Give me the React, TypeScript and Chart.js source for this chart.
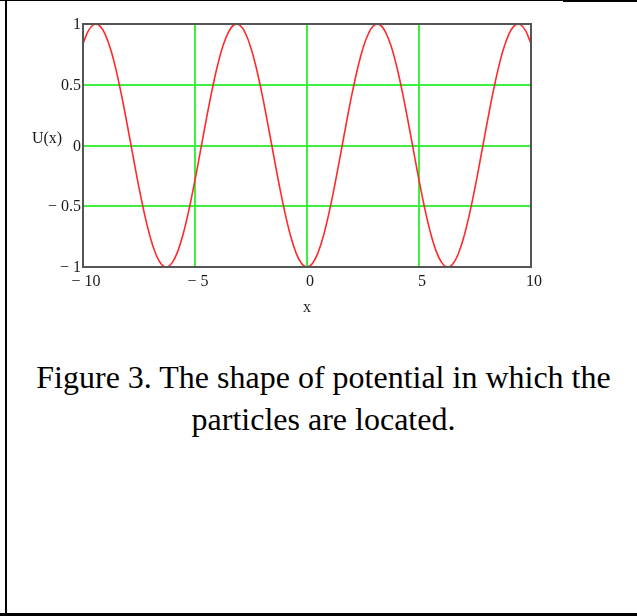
import { useEffect, useRef } from "react";
import { Chart, registerables } from "chart.js";

Chart.register(...registerables);

const xValues = [
  -10, -9.75, -9.5, -9.25, -9, -8.75, -8.5, -8.25, -8, -7.75, -7.5, -7.25, -7, -6.75, -6.5, -6.25,
  -6, -5.75, -5.5, -5.25, -5, -4.75, -4.5, -4.25, -4, -3.75, -3.5, -3.25, -3, -2.75, -2.5, -2.25,
  -2, -1.75, -1.5, -1.25, -1, -0.75, -0.5, -0.25, 0, 0.25, 0.5, 0.75, 1, 1.25, 1.5, 1.75,
  2, 2.25, 2.5, 2.75, 3, 3.25, 3.5, 3.75, 4, 4.25, 4.5, 4.75, 5, 5.25, 5.5, 5.75,
  6, 6.25, 6.5, 6.75, 7, 7.25, 7.5, 7.75, 8, 8.25, 8.5, 8.75, 9, 9.25, 9.5, 9.75, 10,
];

const uValues = [
  0.839, 0.947, 0.997, 0.985, 0.911, 0.782, 0.602, 0.387, 0.146, -0.103, -0.347, -0.568, -0.754, -0.893, -0.977, -1.0,
  -0.96, -0.861, -0.709, -0.512, -0.284, -0.038, 0.211, 0.446, 0.654, 0.821, 0.936, 0.994, 0.99, 0.924, 0.801, 0.628,
  0.416, 0.178, -0.071, -0.315, -0.54, -0.732, -0.878, -0.969, -1.0, -0.969, -0.878, -0.732, -0.54, -0.315, -0.071, 0.178,
  0.416, 0.628, 0.801, 0.924, 0.99, 0.994, 0.936, 0.821, 0.654, 0.446, 0.211, -0.038, -0.284, -0.512, -0.709, -0.861,
  -0.96, -1.0, -0.977, -0.893, -0.754, -0.568, -0.347, -0.103, 0.146, 0.387, 0.602, 0.782, 0.911, 0.985, 0.997, 0.947, 0.839,
];

const xTicks = [-10, -5, 0, 5, 10];
const yTicks = [-1, -0.5, 0, 0.5, 1];
const xTitle = "x";
const yTitle = "U(x)";
const captionLines = ["Figure 3. The shape of potential in which the", "particles are located."];

const SERIF = "'Liberation Serif', 'Times New Roman', serif";

function fmt(v: number): string {
  return v < 0 ? "\u2212 " + String(Math.abs(v)) : String(v);
}

const boxAndTitlePlugin = {
  id: "boxAndTitle",
  afterDraw(chart: any) {
    const { ctx, chartArea } = chart;
    ctx.save();
    ctx.strokeStyle = "#555555";
    ctx.lineWidth = 2;
    ctx.strokeRect(chartArea.left, chartArea.top, chartArea.right - chartArea.left, chartArea.bottom - chartArea.top);
    ctx.fillStyle = "#1a1a1a";
    ctx.font = "16px " + SERIF;
    ctx.textAlign = "center";
    ctx.textBaseline = "middle";
    const yScale = chart.scales.y;
    ctx.fillText(yTitle, 47, yScale.getPixelForValue(0) - 7);
    ctx.restore();
  },
};

function PlotChart() {
  const ref = useRef<HTMLCanvasElement | null>(null);
  useEffect(() => {
    if (!ref.current) return;
    const chart = new Chart(ref.current, {
      type: "line",
      data: {
        datasets: [
          {
            data: xValues.map((x, i) => ({ x, y: uValues[i] })),
            borderColor: "#ff2a2a",
            borderWidth: 1.6,
            pointRadius: 0,
            tension: 0.4,
            fill: false,
          },
        ],
      },
      options: {
        animation: false,
        responsive: false,
        events: [],
        layout: { padding: { left: 0, right: 106, top: 24, bottom: 0 } },
        plugins: { legend: { display: false }, tooltip: { enabled: false } },
        scales: {
          x: {
            type: "linear",
            min: -10,
            max: 10,
            afterBuildTicks: (s: any) => {
              s.ticks = xTicks.map((v) => ({ value: v }));
            },
            afterFit: (s: any) => {
              s.height = 63;
            },
            border: { display: false },
            grid: {
              drawTicks: false,
              lineWidth: 2,
              color: (c: any) => (c.tick && (c.tick.value === -10 || c.tick.value === 10) ? "rgba(0,0,0,0)" : "#3ef03e"),
            },
            ticks: {
              padding: 5,
              labelOffset: 3,
              maxRotation: 0,
              autoSkip: false,
              color: "#1a1a1a",
              font: { family: SERIF, size: 16 },
              callback: (v: any) => fmt(Number(v)),
            },
            title: {
              display: true,
              text: xTitle,
              color: "#1a1a1a",
              font: { family: SERIF, size: 16 },
              padding: { top: 0, bottom: 13 },
            },
          },
          y: {
            type: "linear",
            min: -1,
            max: 1,
            afterBuildTicks: (s: any) => {
              s.ticks = yTicks.map((v) => ({ value: v }));
            },
            afterFit: (s: any) => {
              s.width = 83;
            },
            border: { display: false },
            grid: {
              drawTicks: false,
              lineWidth: 2,
              color: (c: any) => (c.tick && (c.tick.value === -1 || c.tick.value === 1) ? "rgba(0,0,0,0)" : "#3ef03e"),
            },
            ticks: {
              padding: 2,
              labelOffset: 1,
              autoSkip: false,
              color: "#1a1a1a",
              font: { family: SERIF, size: 16 },
              callback: (v: any) => fmt(Number(v)),
            },
          },
        },
      },
      plugins: [boxAndTitlePlugin],
    });
    return () => chart.destroy();
  }, []);
  return (
    <canvas
      ref={ref}
      width={637}
      height={330}
      style={{ position: "absolute", left: 0, top: 0, width: 637, height: 330 }}
    />
  );
}

export default function App() {
  return (
    <div style={{ position: "absolute", left: 0, top: 0, width: 637, height: 616, background: "#fff", overflow: "hidden" }}>
      <div style={{ position: "absolute", left: 0, top: 0, width: 637, height: 1, background: "#000" }} />
      <div style={{ position: "absolute", left: 563, top: 0, width: 74, height: 2, background: "#000" }} />
      <div style={{ position: "absolute", left: 5, top: 0, width: 2, height: 616, background: "#000" }} />
      <div style={{ position: "absolute", left: 0, top: 613, width: 637, height: 3, background: "#000" }} />
      <PlotChart />
      <div
        style={{
          position: "absolute",
          left: 10,
          top: 356,
          width: 627,
          textAlign: "center",
          fontFamily: SERIF,
          fontSize: 32,
          lineHeight: "42px",
          color: "#000",
        }}
      >
        {captionLines.map((l, i) => (
          <div key={i}>{l}</div>
        ))}
      </div>
    </div>
  );
}
